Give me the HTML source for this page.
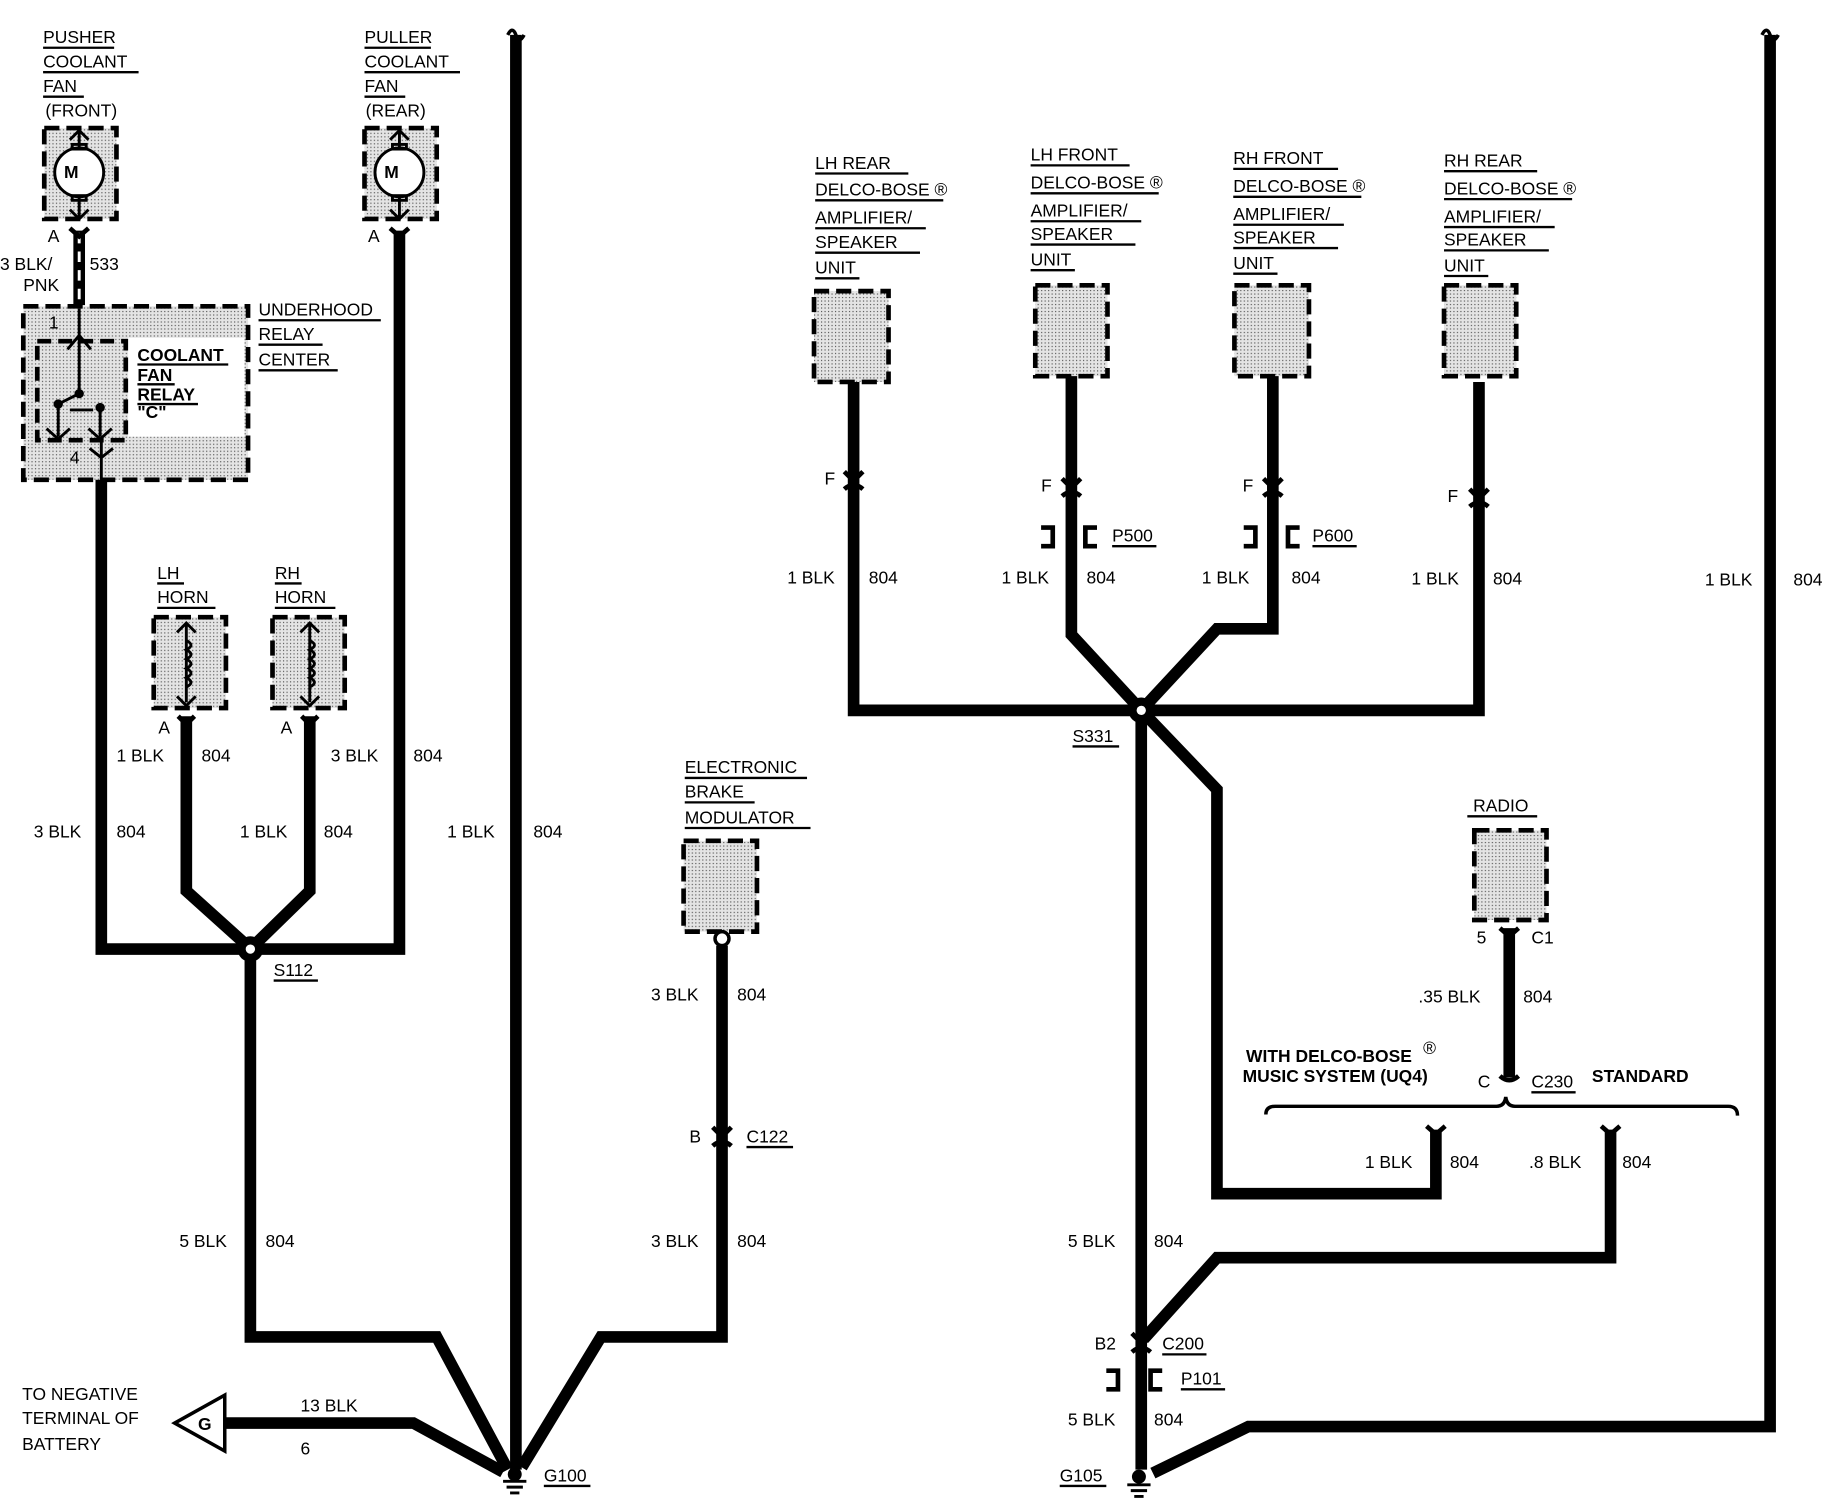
<!DOCTYPE html>
<html><head><meta charset="utf-8"><style>
html,body{margin:0;padding:0;background:#fff;}
svg{display:block;}
text{font-family:"Liberation Sans",Arial,sans-serif;font-size:15px;fill:#000;}
.b{font-weight:bold;}
</style></head><body>
<svg width="1826" height="1504" viewBox="0 0 1568 1291.5" preserveAspectRatio="none" xmlns="http://www.w3.org/2000/svg">
<defs>
<pattern id="dots" width="3" height="3" patternUnits="userSpaceOnUse"><rect width="3" height="3" fill="#e4e4e4"/><rect width="1" height="1" fill="#555"/></pattern>
</defs>
<g fill="url(#dots)" stroke="#000" stroke-width="4" stroke-dasharray="13 6">
<rect x="38" y="110" width="62" height="78"/>
<rect x="313" y="110" width="62" height="78"/>
<rect x="20" y="263" width="193" height="149"/>
<rect x="132" y="530" width="62" height="78"/>
<rect x="234" y="530" width="62" height="78"/>
<rect x="587" y="722" width="63" height="78"/>
<rect x="699" y="250" width="64" height="78"/>
<rect x="889" y="245" width="62" height="78"/>
<rect x="1060" y="245" width="64" height="78"/>
<rect x="1240" y="245" width="62" height="78"/>
<rect x="1266" y="713" width="62" height="77"/>
</g>
<rect x="110" y="290" width="100" height="85" fill="#fff"/>
<rect x="32" y="293" width="76" height="85" fill="url(#dots)" stroke="#000" stroke-width="4" stroke-dasharray="12 6"/>
<!-- motors -->
<g fill="none" stroke="#000" stroke-width="2.5">
<circle cx="68" cy="148" r="21" fill="#fff"/><circle cx="343" cy="148" r="21" fill="#fff"/>
<path d="M68 112V127M68 169V186M60 120L68 112L76 120M60 180L68 188L76 180M343 112V127M343 169V186M335 120L343 112L351 120M335 180L343 188L351 180"/>
<rect x="62" y="124" width="12" height="4"/><rect x="62" y="168" width="12" height="4"/>
<rect x="337" y="124" width="12" height="4"/><rect x="337" y="168" width="12" height="4"/>
<!-- horn coils -->
<path d="M160 535V603M152 543L160 535L168 543M152 598L160 606L168 598M266 535V603M258 543L266 535L274 543M258 598L266 606L274 598"/>
<path d="M160 550q8 4 0 8q8 4 0 8q8 4 0 8q8 4 0 8q8 4 0 8" />
<path d="M266 550q8 4 0 8q8 4 0 8q8 4 0 8q8 4 0 8q8 4 0 8" />
<!-- relay internal -->
<path d="M68 265V300M58 300L68 288L78 300M68 300V338L50 347V375M40 368L50 377L60 368M86 350V375M76 368L86 377L96 368M60 352H80M87 378V412M77 385L87 393L97 385"/>
</g>
<circle cx="68" cy="338" r="4"/><circle cx="50" cy="347" r="4"/><circle cx="86" cy="350" r="4"/>
<text x="55" y="153" font-size="12" class="b">M</text><text x="330" y="153" font-size="12" class="b">M</text>
<!-- wires -->
<g fill="none" stroke="#000" stroke-width="10" stroke-linejoin="miter">
<path d="M68 198V262"/>
<path d="M87 412V815H215"/>
<path d="M343 198V815H215"/>
<path d="M160 615V765L210 810"/>
<path d="M266 615V765L220 810"/>
<path d="M215 815V1148H375L436 1262"/>
<path d="M443 30V1262"/>
<path d="M620 812V1148H516L448 1260"/>
<path d="M193 1222H355L432 1264"/>
<path d="M733 328V610H1270V328"/>
<path d="M920 323V545L980 610"/>
<path d="M1093 323V540H1045L980 610"/>
<path d="M980 610V1262"/>
<path d="M980 610L1045 678V1025H1233V970"/>
<path d="M1296 797V925"/>
<path d="M1383 970V1080H1045L982 1150"/>
<path d="M1520 30V1225H1072L990 1265"/>
</g>
<path d="M68 200V260" stroke="#fff" stroke-width="2.5" stroke-dasharray="9 7"/>
<!-- nodes -->
<circle cx="215" cy="815" r="11"/><circle cx="215" cy="815" r="4" fill="#fff"/>
<circle cx="980" cy="610" r="11"/><circle cx="980" cy="610" r="4" fill="#fff"/>
<circle cx="620" cy="806" r="6" fill="#fff" stroke="#000" stroke-width="3"/>
<!-- top squiggles -->
<path d="M436 30q4 -8 7 0t7 0M1513 30q4 -8 7 0t7 0" fill="none" stroke="#000" stroke-width="3"/>
<!-- connectors -->
<g fill="none" stroke="#000" stroke-width="4">
<path d="M60 196l8 7l8 -7M335 196l8 7l8 -7"/>
<path d="M153 615l7 7l7 -7M259 615l7 7l7 -7"/>
<path d="M725 405l8 8l8 -8M725 420q8 -7 16 0"/>
<path d="M912 411l8 8l8 -8M912 426q8 -7 16 0"/>
<path d="M1085 411l8 8l8 -8M1085 426q8 -7 16 0"/>
<path d="M1262 420l8 8l8 -8M1262 435q8 -7 16 0"/>
<path d="M612 968l8 8l8 -8M612 984q8 -7 16 0"/>
<path d="M1288 924q8 7 16 0"/>
<path d="M1225 967l8 7l8 -7M1375 967l8 7l8 -7"/>
<path d="M972 1145l8 8l8 -8M972 1161q8 -7 16 0"/>
<path d="M1288 797l8 7l8 -7"/>
<path d="M894 453h10v16h-10M942 453h-10v16h10M1068 453h10v16h-10M1116 453h-10v16h10M950 1177h10v16h-10M998 1177h-10v16h10"/>
<path d="M1087 957q0 -7 8 -7H1285q7 0 8 -8q1 8 8 8H1484q8 0 8 8" stroke-width="3"/>
</g>
<!-- grounds -->
<g stroke="#000" stroke-width="2.5"><path d="M432 1272h20M435 1277h14M438 1282h8M968 1275h20M971 1280h14M974 1285h8"/></g>
<circle cx="442" cy="1266" r="6"/><circle cx="978" cy="1268" r="6"/>
<!-- G triangle -->
<path d="M150 1222L193 1198V1246Z" fill="#fff" stroke="#000" stroke-width="3"/>
<text x="170" y="1228" class="b" font-size="16">G</text>
<!-- text -->
<g>
<text x="37" y="37">PUSHER</text><text x="37" y="58">COOLANT</text><text x="37" y="79">FAN</text><text x="39" y="100">(FRONT)</text>
<text x="313" y="37">PULLER</text><text x="313" y="58">COOLANT</text><text x="313" y="79">FAN</text><text x="314" y="100">(REAR)</text>
<text x="41" y="208">A</text><text x="316" y="208">A</text>
<text x="0" y="232">3 BLK/</text><text x="20" y="250">PNK</text><text x="77" y="232">533</text>
<text x="42" y="282">1</text><text x="60" y="398">4</text>
<text x="222" y="271">UNDERHOOD</text><text x="222" y="292">RELAY</text><text x="222" y="314">CENTER</text>
<text x="118" y="310" class="b">COOLANT</text><text x="118" y="327" class="b">FAN</text><text x="118" y="344" class="b">RELAY</text><text x="118" y="359" class="b">"C"</text>
<text x="135" y="497">LH</text><text x="135" y="518">HORN</text><text x="236" y="497">RH</text><text x="236" y="518">HORN</text>
<text x="136" y="630">A</text><text x="241" y="630">A</text>
<text x="100" y="654">1 BLK</text><text x="173" y="654">804</text><text x="284" y="654">3 BLK</text><text x="355" y="654">804</text>
<text x="29" y="719">3 BLK</text><text x="100" y="719">804</text><text x="206" y="719">1 BLK</text><text x="278" y="719">804</text><text x="384" y="719">1 BLK</text><text x="458" y="719">804</text>
<text x="235" y="838">S112</text>
<text x="154" y="1071">5 BLK</text><text x="228" y="1071">804</text>
<text x="19" y="1202">TO NEGATIVE</text><text x="19" y="1223">TERMINAL OF</text><text x="19" y="1245">BATTERY</text>
<text x="258" y="1212">13 BLK</text><text x="258" y="1249">6</text>
<text x="467" y="1272">G100</text>
<text x="588" y="664">ELECTRONIC</text><text x="588" y="685">BRAKE</text><text x="588" y="707">MODULATOR</text>
<text x="559" y="859">3 BLK</text><text x="633" y="859">804</text>
<text x="592" y="981">B</text><text x="641" y="981">C122</text>
<text x="559" y="1071">3 BLK</text><text x="633" y="1071">804</text>
<text x="700" y="145">LH REAR</text><text x="700" y="168">DELCO-BOSE ®</text><text x="700" y="192">AMPLIFIER/</text><text x="700" y="213">SPEAKER</text><text x="700" y="235">UNIT</text>
<text x="885" y="138">LH FRONT</text><text x="885" y="162">DELCO-BOSE ®</text><text x="885" y="186">AMPLIFIER/</text><text x="885" y="206">SPEAKER</text><text x="885" y="228">UNIT</text>
<text x="1059" y="141">RH FRONT</text><text x="1059" y="165">DELCO-BOSE ®</text><text x="1059" y="189">AMPLIFIER/</text><text x="1059" y="209">SPEAKER</text><text x="1059" y="231">UNIT</text>
<text x="1240" y="143">RH REAR</text><text x="1240" y="167">DELCO-BOSE ®</text><text x="1240" y="191">AMPLIFIER/</text><text x="1240" y="211">SPEAKER</text><text x="1240" y="233">UNIT</text>
<text x="708" y="416">F</text><text x="894" y="422">F</text><text x="1067" y="422">F</text><text x="1243" y="431">F</text>
<text x="955" y="465">P500</text><text x="1127" y="465">P600</text>
<text x="676" y="501">1 BLK</text><text x="746" y="501">804</text><text x="860" y="501">1 BLK</text><text x="933" y="501">804</text>
<text x="1032" y="501">1 BLK</text><text x="1109" y="501">804</text><text x="1212" y="502">1 BLK</text><text x="1282" y="502">804</text>
<text x="1464" y="503">1 BLK</text><text x="1540" y="503">804</text>
<text x="921" y="637">S331</text>
<text x="1265" y="697">RADIO</text>
<text x="1268" y="810">5</text><text x="1315" y="810">C1</text>
<text x="1218" y="861">.35 BLK</text><text x="1308" y="861">804</text>
<text x="1070" y="912" class="b" font-size="14">WITH DELCO-BOSE</text><text x="1222" y="905" font-size="9">®</text>
<text x="1067" y="929" class="b" font-size="14">MUSIC SYSTEM (UQ4)</text>
<text x="1269" y="934">C</text><text x="1315" y="934">C230</text><text x="1367" y="929" class="b" font-size="14">STANDARD</text>
<text x="1172" y="1003">1 BLK</text><text x="1245" y="1003">804</text><text x="1313" y="1003">.8 BLK</text><text x="1393" y="1003">804</text>
<text x="917" y="1071">5 BLK</text><text x="991" y="1071">804</text>
<text x="940" y="1159">B2</text><text x="998" y="1159">C200</text><text x="1014" y="1189">P101</text>
<text x="917" y="1224">5 BLK</text><text x="991" y="1224">804</text>
<text x="910" y="1272">G105</text>
</g>
<!-- underlines -->
<g stroke="#000" stroke-width="2">
<path d="M37 41h61M37 62h82M37 83h35M313 41h57M313 62h82M313 83h35"/>
<path d="M222 275h105M222 296h55M222 318h68"/>
<path d="M118 313h78M118 330h32M118 347h52"/>
<path d="M135 501h23M135 522h50M236 501h23M236 522h52"/>
<path d="M235 842h38M467 1276h40"/>
<path d="M588 668h105M588 689h60M588 711h108"/>
<path d="M641 985h40M955 469h38M1127 469h38M998 1163h38M1014 1193h38M1315 938h38M921 641h40M910 1276h40"/>
<path d="M700 149h80M700 172h110M700 196h95M700 217h90M700 239h38"/>
<path d="M885 142h85M885 166h110M885 190h95M885 210h90M885 232h38"/>
<path d="M1059 145h90M1059 169h110M1059 193h95M1059 213h90M1059 235h38"/>
<path d="M1240 147h80M1240 171h110M1240 195h95M1240 215h90M1240 237h38"/>
<path d="M1260 701h60"/>
</g>
</svg>
</body></html>
